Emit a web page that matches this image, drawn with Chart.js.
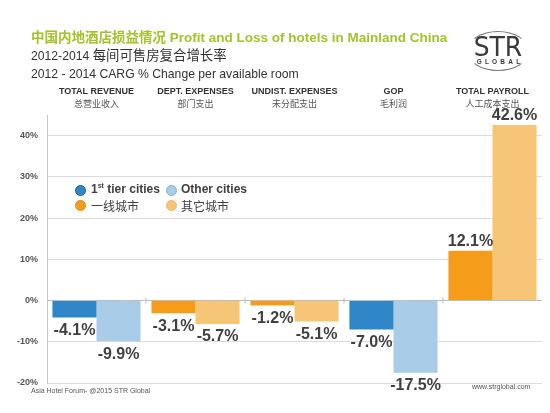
<!DOCTYPE html>
<html lang="en">
<head>
    <meta charset="UTF-8">
    <title>Profit and Loss of hotels in Mainland China</title>
    <script src="https://cdn.jsdelivr.net/npm/chart.js"></script>
    <style>
        body { margin: 0; background: #fff; font-family: "Liberation Sans", Arial, "Noto Sans CJK SC", sans-serif; }
        #wrap { position: relative; width: 550px; height: 413px; overflow: hidden; }
        #pnlChart { position: absolute; left: 0; top: 0; }
        .txt { position: absolute; white-space: nowrap; }
        #title { left: 31px; top: 26px; font-size: 13.5px; font-weight: bold; color: #a3c22b; }
        .sub { left: 31px; font-size: 12.2px; color: #333; line-height: 16px; }
        .sub .cn { font-size: 13.4px; }
        #legend { left: 75px; top: 182px; font-size: 12px; color: #404040; }
        #legend .item { position: absolute; white-space: nowrap; }
        #legend .dot { position: absolute; left: 0; top: 3px; width: 9px; height: 9px; border-radius: 50%; }
        #legend span.lbl { position: absolute; left: 16px; top: 0; }
        #logo { left: 467px; top: 31px; width: 62px; height: 40px; text-align: center; color: #3a3a3a; }
        .foot { font-size: 7px; color: #555; }
    </style>
</head>
<body>
<div id="wrap">
    <canvas id="pnlChart" width="550" height="413"></canvas>

    <div class="txt" id="title">中国内地酒店损益情况 Profit and Loss of hotels in Mainland China</div>
    <div class="txt sub" style="top:48px">2012-2014 <span class="cn">每间可售房复合增长率</span></div>
    <div class="txt sub" style="top:66px">2012 - 2014 CARG % Change per available room</div>

    <div class="txt" id="logo">
        <div style="position:absolute;left:0;top:0;width:60px;height:38px;border:1px solid #777;border-radius:50%;border-left-color:transparent;border-right-color:transparent;"></div>
        <div style="position:absolute;left:0;top:4px;width:62px;font-size:25px;font-family:'DejaVu Sans',sans-serif;line-height:25px;transform:scaleY(1.05);">STR</div>
        <div style="position:absolute;left:2px;top:27px;width:62px;font-size:6.5px;font-weight:bold;letter-spacing:3.2px;">GLOBAL</div>
    </div>

    <div class="txt" id="legend">
        <div class="item" style="left:0;top:0"><div class="dot" style="background:#2f86c8;border:1px solid #1d5f95"></div><span class="lbl"><b>1<sup style="font-size:7px">st</sup> tier cities</b></span></div>
        <div class="item" style="left:91px;top:0"><div class="dot" style="background:#a9cde9;border:1px solid #7fb1dc"></div><span class="lbl" style="left:15px"><b>Other cities</b></span></div>
        <div class="item" style="left:0;top:15px"><div class="dot" style="background:#f59d1b;border:1px solid #e08a10"></div><span class="lbl">一线城市</span></div>
        <div class="item" style="left:91px;top:15px"><div class="dot" style="background:#f6c576;border:1px solid #eeb55e"></div><span class="lbl" style="left:15px">其它城市</span></div>
    </div>

    <div class="txt foot" style="left:31px;top:387px">Asia Hotel Forum- @2015 STR Global</div>
    <div class="txt foot" style="left:472px;top:383px">www.strglobal.com</div>
</div>

<script>
    // categories (two header lines)
    var categories = ['TOTAL REVENUE', 'DEPT. EXPENSES', 'UNDIST. EXPENSES', 'GOP', 'TOTAL PAYROLL'];
    var categoriesCn = ['总营业收入', '部门支出', '未分配支出', '毛利润', '人工成本支出'];

    // CAGR % change, 2012-2014
    var tier1Values = [-4.1, -3.1, -1.2, -7.0, 12.1];
    var otherValues = [-9.9, -5.7, -5.1, -17.5, 42.6];

    // y axis ticks
    var yMin = -20;
    var yMax = 45;
    var yStep = 10;

    var tier1Colors = ['#2f86c8', '#f59d1b', '#f59d1b', '#2f86c8', '#f59d1b'];
    var otherColors = ['#a9cde9', '#f6c576', '#f6c576', '#a9cde9', '#f6c576'];

    // headers above the plot, value labels and the small ticks on the 0% line
    var extras = {
        id: 'extras',
        afterDatasetsDraw: function (chart) {
            var ctx = chart.ctx;
            var x = chart.scales.x;
            var y = chart.scales.y;
            ctx.save();
            ctx.textAlign = 'center';
            ctx.textBaseline = 'middle';

            categories.forEach(function (c, i) {
                var cx = x.getPixelForValue(i);
                ctx.fillStyle = '#333';
                ctx.font = 'bold 9px "Liberation Sans", Arial, sans-serif';
                ctx.fillText(c, cx, 92);
                ctx.fillStyle = '#555';
                ctx.font = '9px "Noto Sans CJK SC", sans-serif';
                ctx.fillText(categoriesCn[i], cx, 104);
            });

            // category boundaries on the zero line
            var y0 = y.getPixelForValue(0);
            ctx.strokeStyle = '#bbb';
            ctx.lineWidth = 1;
            for (var i = 1; i < categories.length; i++) {
                var bx = (x.getPixelForValue(i - 1) + x.getPixelForValue(i)) / 2;
                ctx.beginPath();
                ctx.moveTo(bx, y0 - 3);
                ctx.lineTo(bx, y0 + 3);
                ctx.stroke();
            }

            ctx.fillStyle = '#404040';
            ctx.font = 'bold 16px "Liberation Sans", Arial, sans-serif';
            chart.data.datasets.forEach(function (ds, di) {
                chart.getDatasetMeta(di).data.forEach(function (bar, i) {
                    var v = ds.data[i];
                    var ty = v < 0 ? bar.y + 13 : bar.y - 9;
                    ctx.fillText(v.toFixed(1) + '%', bar.x, ty);
                });
            });
            ctx.restore();
        }
    };

    var ctx = document.getElementById('pnlChart').getContext('2d');
    var pnlChart = new Chart(ctx, {
        type: 'bar',
        data: {
            labels: categories,
            datasets: [{
                label: '1st tier cities',
                data: tier1Values,
                backgroundColor: tier1Colors
            }, {
                label: 'Other cities',
                data: otherValues,
                backgroundColor: otherColors
            }]
        },
        options: {
            responsive: false,
            animation: false,
            categoryPercentage: 0.89,
            barPercentage: 1.0,
            layout: {
                padding: { top: 115, right: 8, bottom: 30, left: 0 }
            },
            plugins: {
                legend: { display: false },
                tooltip: { enabled: false }
            },
            scales: {
                x: {
                    display: false
                },
                y: {
                    min: yMin,
                    max: yMax,
                    afterFit: function (scale) { scale.width = 47; },
                    border: { color: '#c8c8c8' },
                    grid: {
                        drawTicks: false,
                        color: function (c) { return c.tick && c.tick.value === 0 ? '#bdbdbd' : '#dcdcdc'; }
                    },
                    ticks: {
                        stepSize: yStep,
                        padding: 9,
                        color: '#555',
                        font: { family: '"Liberation Sans", Arial, sans-serif', size: 9, weight: 'bold' },
                        callback: function (v) { return v % yStep === 0 ? v + '%' : null; }
                    }
                }
            }
        },
        plugins: [extras]
    });
</script>
</body>
</html>
